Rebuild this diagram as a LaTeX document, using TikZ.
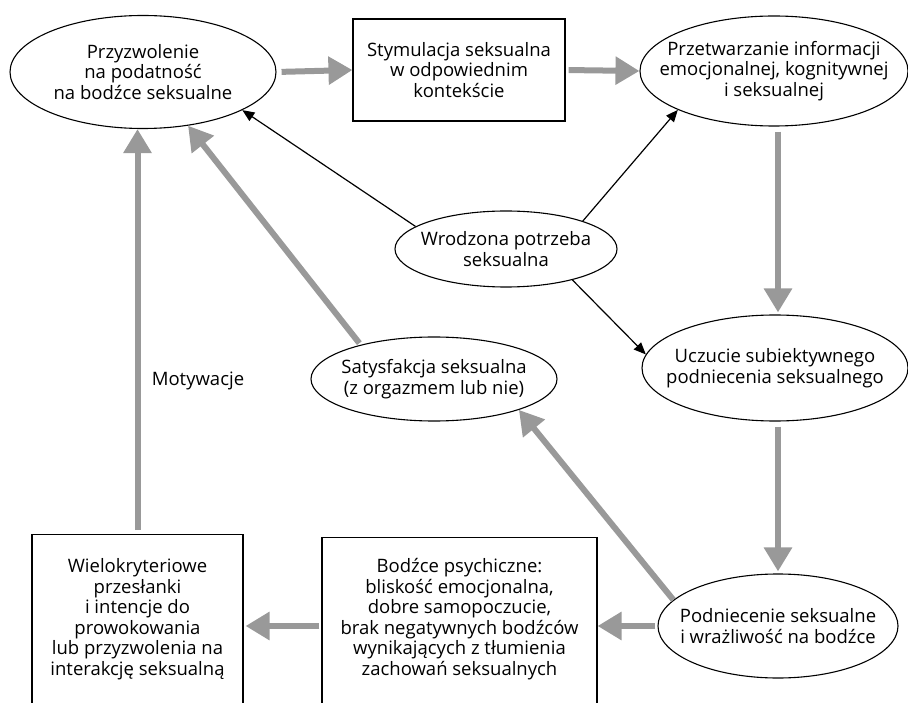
\documentclass[tikz,border=0pt]{standalone}
\usepackage{fontspec}
\setmainfont{Open Sans}
\usetikzlibrary{arrows.meta,shapes.geometric}
\definecolor{flowgray}{RGB}{153,153,153}
\lineskiplimit=-5pt
\begin{document}
\begin{tikzpicture}[x=1pt,y=-1pt,font=\fontsize{18.5}{20.5}\selectfont,
  oval/.style={ellipse,draw,line width=1.1pt,inner xsep=-50pt,inner ysep=-20pt,align=center},
  boxed/.style={rectangle,draw,line width=1.1pt,inner sep=0pt,align=center},
  gflow/.style={draw=flowgray,line width=6pt,-{Triangle[length=24pt,width=27pt]}},
  bflow/.style={draw=black,line width=1.2pt,-{Triangle[length=12pt,width=10pt]}}]
\useasboundingbox (0,0) rectangle (908,703);
\clip (0,0) rectangle (908,703);

\node[oval,minimum width=266pt,minimum height=113pt] (perm) at (143,72) {Przyzwolenie\\na podatność\\na bodźce seksualne};
\node[boxed,minimum width=212pt,minimum height=102pt] (stim) at (459,70) {Stymulacja seksualna\\w odpowiednim\\kontekście};
\node[oval,minimum width=268pt,minimum height=110pt] (proc) at (774,71) {Przetwarzanie informacji\\emocjonalnej, kognitywnej\\i seksualnej};
\node[oval,minimum width=222pt,minimum height=76pt] (need) at (506,249) {Wrodzona potrzeba\\seksualna};
\node[oval,minimum width=266pt,minimum height=106pt] (subj) at (775,368) {Uczucie subiektywnego\\podniecenia seksualnego};
\node[oval,minimum width=246pt,minimum height=84pt] (satis) at (434,379) {Satysfakcja seksualna\\(z orgazmem lub nie)};
\node[oval,minimum width=240pt,minimum height=104pt] (arou) at (778,626) {Podniecenie seksualne\\i wrażliwość na bodźce};
\node[boxed,anchor=north] (psych) at (459.5,537) {\parbox[t][190pt][t]{275pt}{\centering\vspace{21pt}Bodźce psychiczne:\\bliskość emocjonalna,\\dobre samopoczucie,\\brak negatywnych bodźców\\wynikających z tłumienia\\zachowań seksualnych}};
\node[boxed,anchor=north] (multi) at (137.5,534) {\parbox[t][190pt][t]{211pt}{\centering\vspace{24pt}Wielokryteriowe\\przesłanki\\i intencje do\\prowokowania\\lub przyzwolenia na\\interakcję seksualną}};
\node (motiv) at (198,381) {Motywacje};

\draw[gflow,shorten <=5pt] (perm.east) -- (stim.west);
\draw[gflow,shorten <=3pt] (stim.east) -- (proc.west);
\draw[gflow,shorten <=5pt,shorten >=2pt] (proc.south -| arou.north) -- (subj.north -| arou.north);
\draw[gflow,shorten <=5pt,shorten >=2pt] (subj.south -| arou.north) -- (arou.north);
\draw[gflow,shorten <=2pt] (arou.west) -- (psych.east |- arou.west);
\draw[gflow,shorten <=2pt,shorten >=2pt] (psych.west |- arou.west) -- (multi.east |- arou.west);
\draw[gflow,shorten <=4pt] (multi.north) -- (perm.south -| multi.north);
\draw[gflow] (arou.166) -- (satis.340);
\draw[gflow,shorten <=2pt] (satis.155) -- (perm.310);

\draw[bflow] (need.166) -- (perm.339);
\draw[bflow] (need.20) -- (proc.202);
\draw[bflow] (need.335) -- (subj.174);
\end{tikzpicture}
\end{document}
